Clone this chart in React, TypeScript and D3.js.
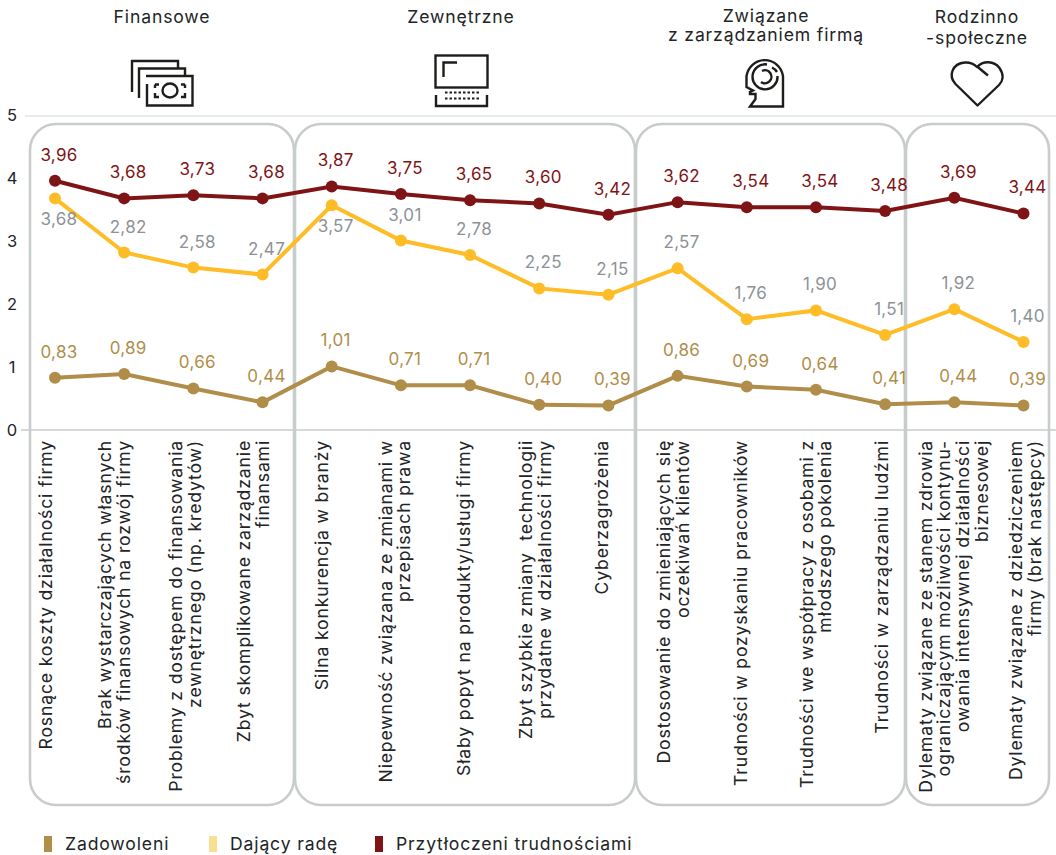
import React from "react";
import * as d3 from "d3";

const categories: string[][] = [
  ["Rosnące koszty działalności firmy"],
  ["Brak wystarczających własnych", "środków finansowych na rozwój firmy"],
  ["Problemy z dostępem do finansowania", "zewnętrznego (np. kredytów)"],
  ["Zbyt skomplikowane zarządzanie", "finansami"],
  ["Silna konkurencja w branży"],
  ["Niepewność związana ze zmianami w", "przepisach prawa"],
  ["Słaby popyt na produkty/usługi firmy"],
  ["Zbyt szybkie zmiany  technologii", "przydatne w działalności firmy"],
  ["Cyberzagrożenia"],
  ["Dostosowanie do zmieniających się", "oczekiwań klientów"],
  ["Trudności w pozyskaniu pracowników"],
  ["Trudności we współpracy z osobami z", "młodszego pokolenia"],
  ["Trudności w zarządzaniu ludźmi"],
  ["Dylematy związane ze stanem zdrowia", "ograniczającym możliwości kontynu-", "owania intensywnej działalności", "biznesowej"],
  ["Dylematy związane z dziedziczeniem", "firmy (brak następcy)"],
];
const overwhelmed = [3.96, 3.68, 3.73, 3.68, 3.87, 3.75, 3.65, 3.6, 3.42, 3.62, 3.54, 3.54, 3.48, 3.69, 3.44];
const coping = [3.68, 2.82, 2.58, 2.47, 3.57, 3.01, 2.78, 2.25, 2.15, 2.57, 1.76, 1.9, 1.51, 1.92, 1.4];
const satisfied = [0.83, 0.89, 0.66, 0.44, 1.01, 0.71, 0.71, 0.4, 0.39, 0.86, 0.69, 0.64, 0.41, 0.44, 0.39];
const yTicks = [0, 1, 2, 3, 4, 5];
const legendNames = ["Zadowoleni", "Dający radę", "Przytłoczeni trudnościami"];

const RED = "#7f1416";
const YELLOW = "#febc27";
const GOLD = "#b08d49";
const GREY = "#8e9296";
const BOX = "#c8cccc";
const INK = "#222426";
const FONT = "Inter, sans-serif";
const TEXT_SIZE = 17.6;
const TEXT_TRACK = 0.85;

const x = d3.scalePoint<number>().domain(d3.range(15)).range([55, 1023.5]);
const y = d3.scaleLinear().domain([0, 5]).range([430, 115.3]);
const line = d3.line<number>().x((_, i) => x(i)!).y((d) => y(d));

const boxes = [[30, 294], [295, 635], [636, 905], [906, 1049]];
const belowLabels = new Set([0, 4]);
const labelNudge = [0, -1, 1, 0, -1, 3, 3, 5, 3, 5, 3, 9, 6, 8.5, 11];

function Series({ values, color, labelColor, below }: { values: number[]; color: string; labelColor: string; below?: boolean }) {
  return (
    <g>
      <path d={line(values)!} fill="none" stroke={color} strokeWidth={4} />
      {values.map((v, i) => (
        <circle key={i} cx={x(i)} cy={y(v)} r={6} fill={color} />
      ))}
      {values.map((v, i) => (
        <text key={i} x={x(i)! + 4} y={y(v) + (below && belowLabels.has(i) ? 27 : -20)} textAnchor="middle" fontSize={17} letterSpacing={0.3} fill={labelColor}>
          {v.toFixed(2).replace(".", ",")}
        </text>
      ))}
    </g>
  );
}

const S = { fill: "none", stroke: "#1d1d1b", strokeWidth: 2.4 } as const;

export default function App() {
  return (
    <svg width={1056} height={855} style={{ position: "absolute", left: 0, top: 0, background: "#fff" }} fontFamily={FONT}>
      <line x1={25} x2={1056} y1={116} y2={116} stroke="#e3e5e5" strokeWidth={1.5} />
      <line x1={21} x2={1056} y1={y(0)} y2={y(0)} stroke={BOX} strokeWidth={1.5} />
      {yTicks.map((t) => (
        <text key={t} x={12} y={y(t) + 5.5} textAnchor="middle" fontSize={16.5} fill={INK}>{t}</text>
      ))}
      {boxes.map(([a, b], i) => (
        <rect key={i} x={a} y={124} width={b - a} height={681} rx={26} ry={26} fill="none" stroke={BOX} strokeWidth={2.6} />
      ))}

      <Series values={overwhelmed} color={RED} labelColor={RED} />
      <Series values={coping} color={YELLOW} labelColor={GREY} below />
      <Series values={satisfied} color={GOLD} labelColor={GOLD} />

      {categories.map((lines, i) => (
        <g key={i} transform={`translate(${x(i)! - 9 + labelNudge[i]},440) rotate(-90)`}>
          {lines.map((l, j) => (
            <text key={j} x={0} y={(j - (lines.length - 1) / 2) * 18.8 + 6} textAnchor="end" fontSize={TEXT_SIZE} letterSpacing={TEXT_TRACK} xmlSpace="preserve" fill={INK}>{l}</text>
          ))}
        </g>
      ))}

      <g fontSize={TEXT_SIZE} letterSpacing={TEXT_TRACK} fill={INK} textAnchor="middle">
        <text x={162} y={23}>Finansowe</text>
        <text x={461} y={23}>Zewnętrzne</text>
        <text x={766} y={22}>Związane</text>
        <text x={766} y={41}>z zarządzaniem firmą</text>
        <text x={977} y={23}>Rodzinno</text>
        <text x={977} y={44}>-społeczne</text>
      </g>

      {/* cash */}
      <g {...S}>
        <path d="M132 92V61H178V68" />
        <path d="M139 98V68.5H185V75.5" />
        <path d="M146 76H192.5V105.5H147V84" />
        <ellipse cx={170} cy={90.5} rx={7.5} ry={7} />
        <path d="M155 84.5V88M155 93V97H159M185 84.5V88M185 93V97H181M155 84.5H159M185 84.5H181" />
      </g>
      {/* computer */}
      <g {...S}>
        <rect x={435.5} y={55.5} width={52} height={32} />
        <path d="M443.5 77V62.5H457" />
        <path d="M436 95V106H487V95" />
        <path d="M445 92.5H479M445 98.5H479" strokeDasharray="2.5 2" strokeWidth={2} />
      </g>
      {/* head */}
      <g {...S}>
        <path d="M783 106.5V76A18.5 19 0 0 0 746.5 76V87L753 90.5L750 92V94H755.5V99L750 106.5Z" />
        <path d="M767 64.5A12.5 12.5 0 1 0 777.5 76" />
        <path d="M772 67.5A12 12 0 0 1 777 72" />
        <path d="M762 71A6.5 6.5 0 1 1 761 82" />
      </g>
      {/* heart */}
      <path d="M977.5 105.5L955.5 84C948 76 952 63.5 965 62.5C970 62.2 974 64 977 67C983 60.5 994 60.5 999.5 68C1005 76 1002 82 999 85Z M976.5 66L988 75.5" {...S} strokeLinejoin="round" />

      {/* legend */}
      {[GOLD, "#f8e092", RED].map((c, i) => {
        const sx = [44, 209, 375][i];
        return (
          <g key={i}>
            <rect x={sx} y={836} width={8} height={16} fill={c} />
            <text x={sx + 21} y={850} fontSize={TEXT_SIZE} letterSpacing={TEXT_TRACK} fill={INK}>{legendNames[i]}</text>
          </g>
        );
      })}
    </svg>
  );
}
